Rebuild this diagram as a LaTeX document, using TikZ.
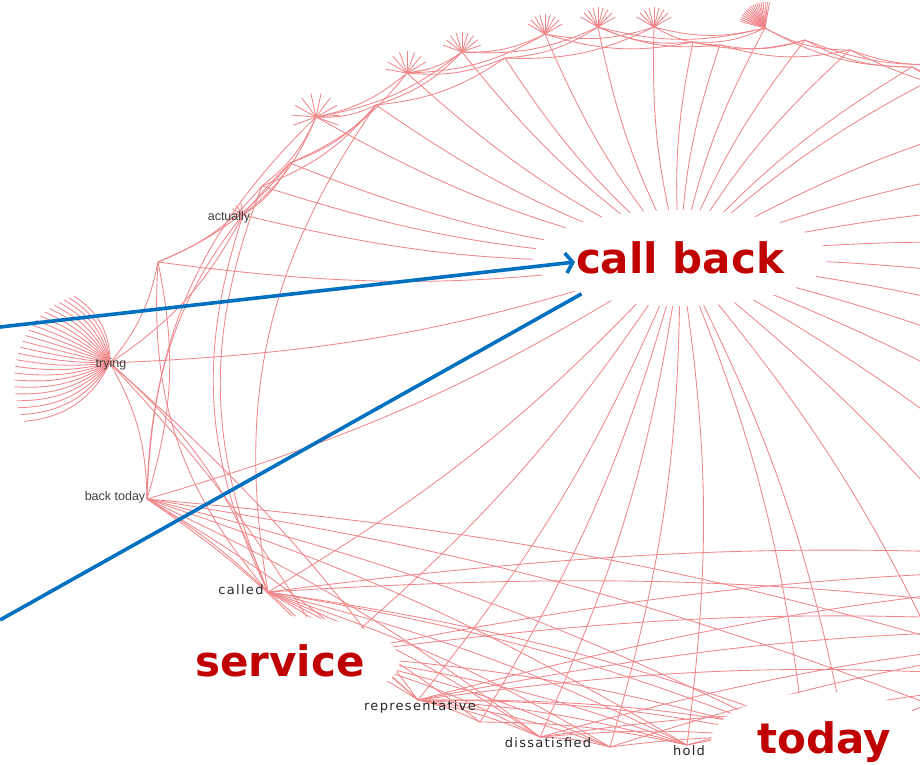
\documentclass[tikz,border=0pt]{standalone}
\usepackage{fontspec}
\setmainfont{DejaVu Sans}
\newfontfamily\spacedfont[LetterSpace=10]{DejaVu Sans}
\newfontfamily\arialfont{Liberation Sans}
\usetikzlibrary{arrows.meta, shapes.geometric}

\definecolor{linkred}{RGB}{238,134,138}
\definecolor{termred}{RGB}{192,0,0}
\definecolor{pointblue}{RGB}{0,112,192}

\begin{document}
\begin{tikzpicture}[x=1pt, y=-1pt,
  link/.style={linkred, line width=0.85pt},
  spoke/.style={link, bend left=8},
  chord/.style={link, bend right=14},
  span/.style={link, bend right=6},
  term/.style={ellipse, fill=white, text=termred, inner sep=0pt,
    font=\fontsize{42}{42}\selectfont\bfseries},
  word/.style={text=black!85, font=\spacedfont\fontsize{13}{13}\selectfont},
  faint/.style={text=black!75, font=\arialfont\fontsize{12.5}{12.5}\selectfont},
  pointer/.style={pointblue, line width=3.6pt}]
  \useasboundingbox (0,0) rectangle (920,764);
  \clip (0,0) rectangle (920,764);

  % vertices of the ring, plus the hub
  \foreach \n/\x/\y in {a1/158/262, a2/243/215, a3/262/186, a4/290/163, a5/316/117,
      a6/376/105, a7/407/73, a8/462/52, a9/505/58, a10/545/34, a11/598/27,
      a12/654/27, a13/693/42, a14/720/45, a15/765/28, a16/805/40, a17/850/50,
      a18/912/67, tr/110/363, bt/147/499, cl/268/592, sv/330/655, rp/418/700,
      e2/480/722, ds/540/737, e1/610/747, hd/687/745, td/805/742, cb/680/258}
    \coordinate (\n) at (\x,\y);
  % right half of the ring lies off the page
  \foreach \t [count=\i] in {66,54,...,-78}
    \coordinate (r\i) at ({720+610*cos(\t)},{390-360*sin(\t)});

  % spokes out of the hub
  \foreach \i in {1,...,18} \draw[spoke] (cb) to (a\i);
  \foreach \i in {1,...,13} \draw[spoke] (cb) to (r\i);
  \foreach \v in {tr,bt,cl,sv,rp,e2,ds,e1,hd,td} \draw[spoke] (cb) to (\v);

  % chords along the top of the ring (clockwise order)
  \foreach \p/\q in {a1/a3, a1/a4, a2/a4, a2/a5, a3/a5, a3/a6, a4/a6, a4/a7,
      a5/a6, a5/a7, a5/a8, a6/a8, a6/a9, a7/a8, a7/a9, a7/a10, a8/a10, a8/a11,
      a9/a11, a9/a12, a10/a12, a10/a13, a11/a13, a11/a14, a11/a15, a12/a14,
      a12/a15, a13/a15, a13/a16, a14/a16, a14/a17, a15/a17, a15/a18, a16/a18,
      a16/r1, a17/r1, a17/r2, a18/r2, a18/r3, tr/a1, tr/a2, bt/a1, cl/tr, bt/tr}
    \draw[chord] (\p) to (\q);
  % long chords across the bottom
  \foreach \p/\q in {r11/hd, r12/hd, r12/ds, r11/rp, r10/cl, r10/sv, r11/bt,
      r12/bt, r13/cl, r13/rp, r13/e1, r9/cl, r9/rp, r10/rp, r10/ds, r9/sv,
      r10/e1, td/ds, td/rp, td/cl, td/bt, td/sv, hd/e2, hd/rp, hd/sv, hd/cl,
      hd/bt, e1/ds, e1/rp, e1/sv, e1/cl, ds/rp, ds/sv, ds/cl, ds/bt, e2/rp,
      e2/cl, rp/sv, rp/cl, rp/bt, sv/cl, sv/bt, cl/bt, rp/tr, sv/tr}
    \draw[span] (\p) to (\q);
  \foreach \p/\q in {a3/cl, a4/bt, a2/cl, a6/cl, a5/bt, a1/cl}
    \draw[link, bend right=22] (\p) to (\q);
  \foreach \i [evaluate=\i as \j using int(\i+1)] in {1,...,12}
    \draw[chord] (r\i) to (r\j);
  \foreach \i [evaluate=\i as \j using int(\i+2)] in {1,...,11}
    \draw[chord] (r\i) to (r\j);

  % leaves hanging off the ring
  \foreach \v/\lo/\hi/\n/\len in {a5/-20/200/9/24, a7/10/170/8/22, a8/20/160/8/20,
      a10/30/150/8/20, a11/30/150/8/20, a12/30/150/8/20, a15/80/165/18/26,
      a2/100/200/4/12}
    \foreach \k in {0,...,\n} {
      \pgfmathsetmacro\s{\lo+(\hi-\lo)*\k/\n}
      \coordinate (\v-\k) at ([shift={({\len*cos(\s)},{-\len*sin(\s)})}]\v);
      \draw[link] (\v) -- (\v-\k);
    }
  \foreach \s in {118,122,...,214} {
    \pgfmathsetmacro\rr{77+(\s-123)*0.3}
    \pgfmathsetmacro\bo{(\s-165)*0.6}
    \pgfmathsetmacro\bi{180-(\s-165)*0.6}
    \coordinate (tr-\s) at ([shift={({\rr*cos(\s)},{-\rr*sin(\s)})}]tr);
    \draw[link, relative, out=\bo, in=\bi] (tr) to (tr-\s);
  }

  % word labels
  \node[faint] (actually) at (229,217) {actually};
  \node[faint] (trying) at (111,364) {trying};
  \node[faint] (backtoday) at (115,497) {back today};
  \node[word] (called) at (241,590) {called};
  \node[word] (representative) at (420,707) {representative};
  \node[word] (dissatisfied) at (548,743) {dissatisfied};
  \node[word] (hold) at (689,751) {hold};

  % highlighted terms
  \node[term, minimum width=228pt, minimum height=96pt] (callback) at (cb) {call back};
  \node[term, minimum width=225pt, minimum height=90pt] (service) at (280,661) {service};
  \node[term, minimum width=226pt, minimum height=100pt] (today) at (824,742) {today};

  % pointers from the left margin
  \coordinate (src1) at (0,327);
  \coordinate (src2) at (0,620);
  \draw[pointer, -{Straight Barb[length=7pt,width=20pt]}]
    (src1) -- ([xshift=-105pt,yshift=-4pt]callback.center);
  \draw[pointer] (src2) -- (callback.200);
\end{tikzpicture}
\end{document}
